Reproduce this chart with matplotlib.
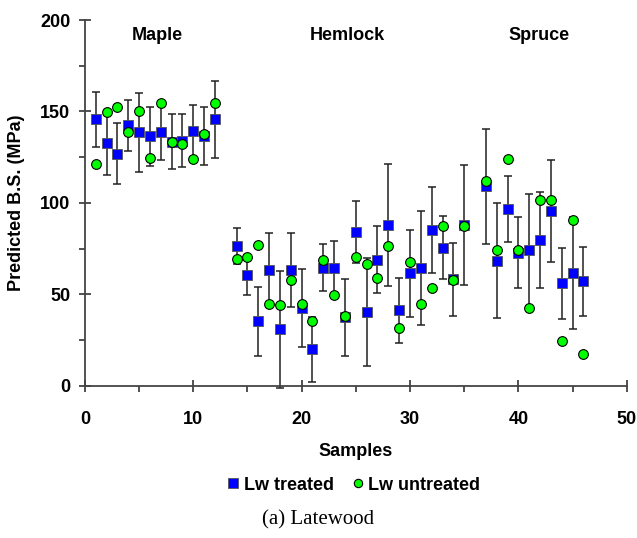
import numpy as np
import matplotlib.pyplot as plt
from matplotlib.ticker import MultipleLocator
from matplotlib.lines import Line2D

# Campioni (13 e 36 mancanti)
samples = [1, 2, 3, 4, 5, 6, 7, 8, 9, 10, 11, 12,
           14, 15, 16, 17, 18, 19, 20, 21, 22, 23, 24, 25, 26, 27, 28, 29, 30,
           31, 32, 33, 34, 35, 37, 38, 39, 40, 41, 42, 43, 44, 45, 46]

lw_treated = [145.6, 132.6, 126.9, 142.5, 138.5, 136.4, 139.0, 133.5, 133.9, 139.4, 136.4, 145.6,
              76.6, 60.6, 35.2, 63.4, 30.9, 63.4, 42.7, 19.8, 64.5, 64.3, 37.4, 83.9, 40.3,
              68.9, 87.9, 41.2, 61.5, 64.3, 85.2, 75.4, 58.2, 87.9,
              109.0, 68.3, 96.7, 72.7, 74.0, 79.8, 95.6, 55.9, 61.5, 57.0]

lw_treated_err = [14.9, 17.4, 16.7, 14.0, 21.5, 16.0, 15.8, 15.0, 14.5, 14.3, 15.8, 21.3,
                  9.8, 11.0, 18.8, 19.9, 32.0, 20.3, 21.3, 17.8, 12.8, 14.8, 21.0, 17.0, 29.5,
                  18.3, 33.3, 17.9, 23.7, 31.0, 23.5, 17.2, 20.1, 32.7,
                  31.3, 31.4, 18.1, 19.5, 30.6, 26.1, 27.9, 19.6, 30.7, 18.7]

lw_untreated = [121.3, 149.6, 152.2, 138.5, 150.2, 124.5, 154.6, 133.5, 132.0, 123.8, 137.9, 154.6,
                69.2, 70.5, 76.7, 44.5, 44.3, 57.7, 44.5, 35.2, 69.0, 49.5, 38.3, 70.5, 66.5,
                58.8, 76.6, 31.5, 67.8, 44.5, 53.5, 87.5, 57.9, 87.5,
                112.1, 74.0, 124.2, 74.0, 42.7, 101.8, 101.5, 24.5, 90.7, 17.2]

groups = ['Maple', 'Hemlock', 'Spruce']
group_x = [6.7, 24.2, 41.9]

plt.rcParams['font.family'] = ['Liberation Sans', 'DejaVu Sans']

fig = plt.figure(figsize=(6.37, 5.38), dpi=100)
ax = fig.add_axes([0.1334, 0.2831, 0.8504, 0.6797])

ax.errorbar(samples, lw_treated, yerr=lw_treated_err, fmt='none', ecolor='#222222',
            elinewidth=1.1, capsize=3, capthick=1.1, zorder=2, clip_on=False)
ax.plot(samples, lw_treated, 's', color='#0000ff', markeredgecolor='#555555',
        markeredgewidth=0.6, markersize=7, zorder=3, clip_on=False)
ax.plot(samples, lw_untreated, 'o', color='#00ff00', markeredgecolor='black',
        markeredgewidth=0.8, markersize=7, zorder=4, clip_on=False)

for name, gx in zip(groups, group_x):
    ax.text(gx, 191.6, name, ha='center', va='center', fontsize=13, fontweight='bold')

ax.set_xlim(0, 50)
ax.set_ylim(0, 200)
ax.xaxis.set_major_locator(MultipleLocator(10))
ax.xaxis.set_minor_locator(MultipleLocator(5))
ax.yaxis.set_major_locator(MultipleLocator(50))
ax.yaxis.set_minor_locator(MultipleLocator(25))

for s in ['top', 'right']:
    ax.spines[s].set_visible(False)
for s in ['left', 'bottom']:
    ax.spines[s].set_color('#444444')
    ax.spines[s].set_linewidth(1.3)

ax.tick_params(which='major', direction='inout', length=9, width=1.1, color='#222222',
               labelsize=13)
ax.tick_params(which='minor', direction='out', length=4, width=1.1, color='#222222')
ax.tick_params(axis='x', which='major', pad=13.5)
ax.tick_params(axis='y', which='major', pad=6)
for lab in ax.get_xticklabels() + ax.get_yticklabels():
    lab.set_fontweight('bold')

ax.set_xlabel('Samples', fontsize=13, fontweight='bold')
ax.set_ylabel('Predicted B.S. (MPa)', fontsize=13, fontweight='bold')
ax.xaxis.set_label_coords(0.5, -0.157)
ax.yaxis.set_label_coords(-0.111, 0.5)
ax.xaxis.label.set_va('top')

handles = [Line2D([], [], marker='s', linestyle='none', color='#0000ff',
                  markeredgecolor='#555555', markeredgewidth=0.6, markersize=7),
           Line2D([], [], marker='o', linestyle='none', color='#00ff00',
                  markeredgecolor='black', markeredgewidth=0.8, markersize=6)]
fig.legend(handles, ['Lw treated', 'Lw untreated'], loc='center', ncol=2,
           bbox_to_anchor=(0.553, 0.0985), frameon=False, handletextpad=0.1,
           columnspacing=0.8, handlelength=1.0,
           prop={'weight': 'bold', 'size': 13})

fig.text(0.5, 1 - 520 / 538, '(a) Latewood', ha='center', va='center', fontsize=15,
         family='Liberation Serif')

fig.savefig('out.png', dpi=100)
